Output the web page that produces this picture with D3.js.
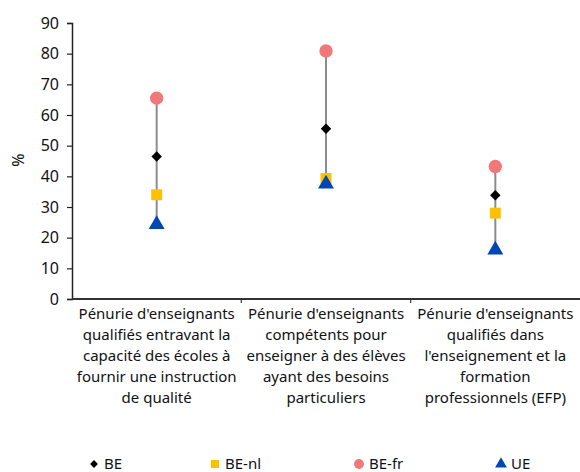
<!DOCTYPE html>
<html>
<head>
<meta charset="utf-8">
<script src="https://cdn.jsdelivr.net/npm/d3@7"></script>
<style>
  body { margin: 0; background: #fff; }
  text { font-family: "Noto Sans", "Open Sans", sans-serif; fill: #111; }
</style>
</head>
<body>
<svg id="chart" width="580" height="472"></svg>
<script>
var categories = [
  ["Pénurie d'enseignants", "qualifiés entravant la", "capacité des écoles à", "fournir une instruction", "de qualité"],
  ["Pénurie d'enseignants", "compétents pour", "enseigner à des élèves", "ayant des besoins", "particuliers"],
  ["Pénurie d'enseignants", "qualifiés dans", "l'enseignement et la", "formation", "professionnels (EFP)"]
];
var seriesNames = ["BE", "BE-nl", "BE-fr", "UE"];
var valBE   = [46.5, 55.5, 33.8];
var valBEnl = [34.0, 39.3, 28.0];
var valBEfr = [65.5, 80.9, 43.2];
var valUE   = [24.3, 37.5, 16.0];
var yTicks = [0, 10, 20, 30, 40, 50, 60, 70, 80, 90];

var colors = {"BE": "#000000", "BE-nl": "#FFC000", "BE-fr": "#F17878", "UE": "#0046B4"};
var symbols = {"BE": d3.symbolSquare, "BE-nl": d3.symbolSquare, "BE-fr": d3.symbolCircle, "UE": d3.symbolTriangle};
var sizes = {"BE": 55, "BE-nl": 120, "BE-fr": 140, "UE": 110};
var rot = {"BE": 45, "BE-nl": 0, "BE-fr": 0, "UE": 0};
var values = {"BE": valBE, "BE-nl": valBEnl, "BE-fr": valBEfr, "UE": valUE};

var svg = d3.select("#chart");
var margin = {top: 23, left: 72, right: 0, bottom: 173};
var width = 580 - margin.left - margin.right;
var height = 472 - margin.top - margin.bottom;

var g = svg.append("g").attr("transform", "translate(" + margin.left + "," + margin.top + ")");

var x = d3.scaleBand().domain(d3.range(categories.length)).range([0, width]);
var y = d3.scaleLinear().domain([0, 90]).range([height, 0]);

// y axis
var yAxis = g.append("g")
  .call(d3.axisLeft(y).tickValues(yTicks).tickSize(5).tickPadding(8));
yAxis.select(".domain").attr("stroke", "#222").attr("stroke-width", 1.5);
yAxis.selectAll(".tick line").attr("stroke", "#222").attr("stroke-width", 1.2);
yAxis.selectAll("text").style("font-size", "16px").attr("fill", "#111");

// x axis
var xa = g.append("g").attr("transform", "translate(0," + height + ")");
xa.append("line").attr("x1", 0).attr("x2", width).attr("stroke", "#333").attr("stroke-width", 2);
xa.selectAll(".sep")
  .data(d3.range(1, categories.length))
  .enter().append("line")
  .attr("x1", function(d) { return x(d); })
  .attr("x2", function(d) { return x(d); })
  .attr("y1", 0).attr("y2", 4)
  .attr("stroke", "#333").attr("stroke-width", 1.2);

var labels = xa.selectAll(".cat")
  .data(categories)
  .enter().append("text")
  .attr("text-anchor", "middle")
  .style("font-size", "15px")
  .attr("transform", function(d, i) { return "translate(" + (x(i) + x.bandwidth() / 2) + ",20)"; });
labels.selectAll("tspan")
  .data(function(d) { return d; })
  .enter().append("tspan")
  .attr("x", 0)
  .attr("y", function(d, i) { return i * 21; })
  .text(function(d) { return d; });

// y label
svg.append("text")
  .attr("transform", "translate(24,160) rotate(-90)")
  .attr("text-anchor", "middle")
  .style("font-size", "16px")
  .text("%");

// range lines
var idx = d3.range(categories.length);
g.selectAll(".rng")
  .data(idx)
  .enter().append("line")
  .attr("x1", function(i) { return x(i) + x.bandwidth() / 2; })
  .attr("x2", function(i) { return x(i) + x.bandwidth() / 2; })
  .attr("y1", function(i) { return y(d3.max(seriesNames, function(s) { return values[s][i]; })); })
  .attr("y2", function(i) { return y(d3.min(seriesNames, function(s) { return values[s][i]; })); })
  .attr("stroke", "#8c8c8c").attr("stroke-width", 2);

// markers (draw order so BE-nl under UE)
["BE-fr", "BE", "BE-nl", "UE"].forEach(function(s) {
  g.selectAll(".m-" + s)
    .data(values[s])
    .enter().append("path")
    .attr("d", d3.symbol().type(symbols[s]).size(sizes[s]))
    .attr("transform", function(d, i) { return "translate(" + (x(i) + x.bandwidth() / 2) + "," + y(d) + ") rotate(" + rot[s] + ")"; })
    .attr("fill", colors[s]);
});

// legend
var legX = [94, 215, 359, 501];
var leg = svg.append("g").attr("transform", "translate(0,464)");
var items = leg.selectAll(".li")
  .data(seriesNames)
  .enter().append("g")
  .attr("transform", function(d, i) { return "translate(" + legX[i] + ",0)"; });
items.append("path")
  .attr("d", function(d) { return d3.symbol().type(symbols[d]).size(sizes[d] * 0.55)(); })
  .attr("transform", function(d) { return "rotate(" + rot[d] + ")"; })
  .attr("fill", function(d) { return colors[d]; });
items.append("text")
  .attr("x", 10)
  .attr("dy", "0.35em")
  .style("font-size", "15px")
  .text(function(d) { return d; });
</script>
</body>
</html>
